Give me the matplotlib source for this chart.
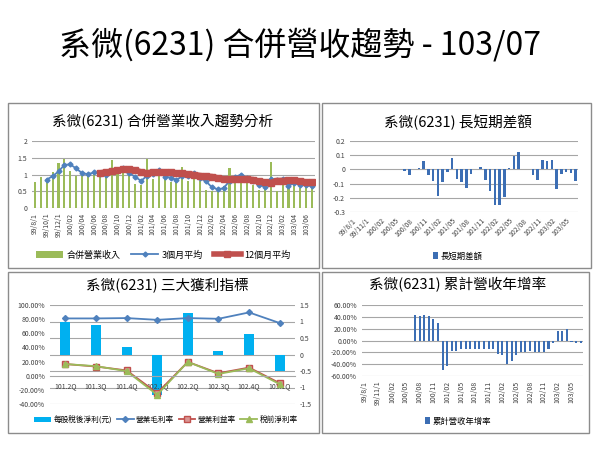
import numpy as np
import matplotlib
matplotlib.use('Agg')
import matplotlib.pyplot as plt
from matplotlib.patches import Rectangle

plt.rcParams['font.family'] = ['Noto Sans CJK TC', 'DejaVu Sans']

# ---- data ----
# monthly, 99/08 .. 103/07  (48 months)
revenue = [0.77, 0.92, 0.85, 1.08, 1.35, 1.45, 1.11, 0.97, 1.05, 1.02, 1.10, 0.95,
           0.95, 1.43, 1.05, 1.07, 1.00, 0.72, 0.70, 1.47, 0.88, 1.05, 0.90, 0.78,
           0.85, 1.23, 0.82, 1.05, 0.80, 0.55, 0.52, 0.60, 0.65, 1.18, 0.95, 0.87,
           0.85, 0.70, 0.55, 0.65, 1.38, 0.52, 0.73, 0.75, 0.75, 0.60, 0.70, 0.65]
avg3 = [np.nan, np.nan, 0.85, 0.95, 1.09, 1.29, 1.30, 1.18, 1.04, 1.01, 1.06, 1.02,
        1.00, 1.11, 1.14, 1.18, 1.04, 0.93, 0.81, 0.96, 1.02, 1.13, 0.94, 0.91,
        0.84, 0.95, 0.97, 1.03, 0.89, 0.80, 0.62, 0.56, 0.59, 0.81, 0.93, 1.00,
        0.89, 0.81, 0.70, 0.63, 0.86, 0.85, 0.88, 0.67, 0.74, 0.70, 0.68, 0.65]
avg12 = [np.nan] * 11 + [1.05, 1.07, 1.10, 1.13, 1.15, 1.15, 1.13, 1.08, 1.05, 1.07,
                         1.07, 1.07, 1.06, 1.03, 1.03, 1.02, 1.00, 0.97, 0.95, 0.94,
                         0.90, 0.87, 0.86, 0.87, 0.87, 0.86, 0.85, 0.80, 0.78, 0.76,
                         0.82, 0.82, 0.83, 0.84, 0.80, 0.78, 0.77]
diff = [np.nan] * 11 + [-0.01, -0.04, 0.0, 0.01, 0.06, -0.04, -0.08, -0.19, -0.09, -0.02,
                        0.08, -0.065, -0.09, -0.13, -0.03, 0.0, 0.02, -0.075, -0.15, -0.25,
                        -0.25, -0.195, 0.01, 0.095, 0.12, 0.0, 0.0, -0.04, -0.075, 0.065,
                        0.06, 0.065, -0.135, -0.03, -0.015, -0.025, -0.085]
yoy = [np.nan] * 11 + [43, 41.5, 43, 41.5, 37, 30, -50, -43, -17, -17,
                       -14, -15, -14, -15, -14, -15, -15, -15, -22, -24,
                       -39, -35, -24, -20, -19, -17, -19, -19, -20, -14,
                       -4, 16, 16, 20, -2, -5, -5]

tick2m = ['99/8/1', '99/10/1', '99/12/1', '100/02', '100/04', '100/06', '100/08', '100/10',
          '100/12', '101/02', '101/04', '101/06', '101/08', '101/10', '101/12', '102/02',
          '102/04', '102/06', '102/08', '102/10', '102/12', '103/02', '103/04', '103/06']
tick3m = ['99/8/1', '99/11/1', '100/02', '100/05', '100/08', '100/11', '101/02', '101/05',
          '101/08', '101/11', '102/02', '102/05', '102/08', '102/11', '103/02', '103/05']

quarters = ['101.2Q', '101.3Q', '101.4Q', '102.1Q', '102.2Q', '102.3Q', '102.4Q', '103.1Q']
eps = [0.97, 0.90, 0.22, -1.22, 1.27, 0.12, 0.63, -0.50]
gross = [81, 81, 81.5, 79, 81.5, 80.5, 89.5, 74.5]
opm = [16.5, 13, 7.5, -24.5, 19.5, 3.5, 11.5, -10.5]
pretax = [16.5, 13.5, 6.5, -27, 19.5, 2.5, 10.5, -12]

GRID = '#A6A6A6'
TXT = '#404040'


def box(l, t, r, b):
    # pixel box -> figure fraction
    return [l / 600, 1 - b / 450, (r - l) / 600, (b - t) / 450]


def clean(ax):
    for s in ax.spines.values():
        s.set_visible(False)
    ax.tick_params(length=0, labelsize=5, colors=TXT)
    ax.grid(axis='y', color=GRID, lw=0.8, zorder=0)
    ax.set_axisbelow(True)


fig = plt.figure(figsize=(6, 4.5), dpi=100)
fig.text(0.5, 1 - 45 / 450, '系微(6231) 合併營收趨勢 - 103/07', ha='center', va='center',
         fontsize=23, color='black')

# panel frames
for l, t, r, b in [(8, 103, 319, 268), (322, 103, 591, 268), (8, 272, 319, 433), (322, 272, 589, 433)]:
    fig.patches.append(Rectangle((l / 600, 1 - b / 450), (r - l) / 600, (b - t) / 450,
                                 transform=fig.transFigure, fill=False, ec='#8C8C8C', lw=1))

x = np.arange(48)

# ---- panel 1 ----
ax1 = fig.add_axes(box(32, 141, 315, 208))
clean(ax1)
b1 = ax1.bar(x, revenue, width=0.35, color='#9BBB59', zorder=2, label='合併營業收入')
l1, = ax1.plot(x, avg3, color='#4F81BD', marker='D', ms=2.5, lw=1.3, zorder=3, label='3個月平均')
l2, = ax1.plot(x, avg12, color='#C0504D', marker='s', ms=4.5, lw=4, zorder=4, label='12個月平均')
ax1.set_ylim(0, 2)
ax1.set_yticks([0, 0.5, 1, 1.5, 2])
ax1.set_yticklabels(['0', '0.5', '1', '1.5', '2'])
ax1.set_xlim(-0.5, 47.5)
ax1.set_xticks(range(0, 48, 2))
ax1.set_xticklabels(tick2m, rotation=90)
fig.text(163 / 600, 1 - 122 / 450, '系微(6231) 合併營業收入趨勢分析', ha='center', va='center', fontsize=10.5)
ax1.legend(handles=[b1, l1, l2], loc='center', bbox_to_anchor=(163 / 600, 1 - 255 / 450),
           bbox_transform=fig.transFigure, ncol=3, frameon=False, fontsize=6.5,
           handlelength=3, columnspacing=1.2, handletextpad=0.4)

# ---- panel 2 ----
ax2 = fig.add_axes(box(350, 141, 578, 212))
clean(ax2)
b2 = ax2.bar(x, diff, width=0.5, color='#3C6EB4', zorder=2, label='長短期差額')
ax2.set_ylim(-0.3, 0.2)
ax2.set_yticks([0.2, 0.1, 0, -0.1, -0.2, -0.3])
ax2.set_yticklabels(['0.2', '0.1', '0', '-0.1', '-0.2', '-0.3'])
ax2.set_xlim(-0.5, 47.5)
ax2.set_xticks(range(0, 48, 3))
ax2.set_xticklabels(tick3m, rotation=45, ha='right', rotation_mode='anchor')
fig.text(458 / 600, 1 - 122 / 450, '系微(6231) 長短期差額', ha='center', va='center', fontsize=10.5)
ax2.legend(handles=[b2], loc='center', bbox_to_anchor=(458 / 600, 1 - 256 / 450),
           bbox_transform=fig.transFigure, frameon=False, fontsize=6,
           handlelength=0.6, handleheight=0.9, handletextpad=0.3)

# ---- panel 3 ----
q = np.arange(len(quarters))
ax3 = fig.add_axes(box(50, 305, 295, 404))
ax3r = ax3.twinx()
ax3.set_zorder(ax3r.get_zorder() + 1)
ax3.patch.set_visible(False)
for a in (ax3, ax3r):
    for s in a.spines.values():
        s.set_visible(False)
    a.tick_params(length=0, labelsize=5, colors=TXT)
ax3r.grid(axis='y', color=GRID, lw=0.8, zorder=0)
ax3r.set_axisbelow(True)
b3 = ax3r.bar(q, eps, width=0.33, color='#00B0F0', zorder=2, label='每股稅後淨利(元)')
ax3r.set_ylim(-1.5, 1.5)
ax3r.set_yticks([1.5, 1, 0.5, 0, -0.5, -1, -1.5])
ax3r.set_yticklabels(['1.5', '1', '0.5', '0', '-0.5', '-1', '-1.5'])
g1, = ax3.plot(q, gross, color='#4F81BD', marker='D', ms=3, lw=1.3, label='營業毛利率')
g2, = ax3.plot(q, opm, color='#C0504D', marker='s', ms=4, mfc='#D99694', lw=1.3, label='營業利益率')
g3, = ax3.plot(q, pretax, color='#9BBB59', marker='^', ms=4, lw=1.3, label='稅前淨利率')
ax3.set_ylim(-40, 100)
ax3.set_yticks(range(-40, 101, 20))
ax3.set_yticklabels(['%.2f%%' % v for v in range(-40, 101, 20)])
ax3.set_xlim(-0.5, 7.5)
ax3.set_xticks(q)
ax3.set_xticklabels(quarters, fontsize=5.5)
ax3.spines['bottom'].set_visible(True)
ax3.spines['bottom'].set_position(('data', 0))
ax3.spines['bottom'].set_color(GRID)
ax3.tick_params(axis='x', pad=5)
fig.text(167 / 600, 1 - 285 / 450, '系微(6231) 三大獲利指標', ha='center', va='center', fontsize=10.5)
ax3.legend(handles=[b3, g1, g2, g3], loc='center', bbox_to_anchor=(166 / 600, 1 - 420 / 450),
           bbox_transform=fig.transFigure, ncol=4, frameon=False, fontsize=5.5,
           handlelength=2.2, columnspacing=0.6, handletextpad=0.3)

# ---- panel 4 ----
ax4 = fig.add_axes(box(362, 305, 583, 376))
clean(ax4)
b4 = ax4.bar(x, yoy, width=0.45, color='#3C6EB4', zorder=2, label='累計營收年增率')
ax4.set_ylim(-60, 60)
ax4.set_yticks(range(-60, 61, 20))
ax4.set_yticklabels(['%.2f%%' % v for v in range(-60, 61, 20)])
ax4.set_xlim(-0.5, 47.5)
ax4.set_xticks(range(0, 48, 3))
ax4.set_xticklabels(tick3m, rotation=90)
fig.text(458 / 600, 1 - 285 / 450, '系微(6231) 累計營收年增率', ha='center', va='center', fontsize=10.5)
ax4.legend(handles=[b4], loc='center', bbox_to_anchor=(458 / 600, 1 - 421 / 450),
           bbox_transform=fig.transFigure, frameon=False, fontsize=6,
           handlelength=0.6, handleheight=0.9, handletextpad=0.3)

fig.savefig('out.png', dpi=100)
